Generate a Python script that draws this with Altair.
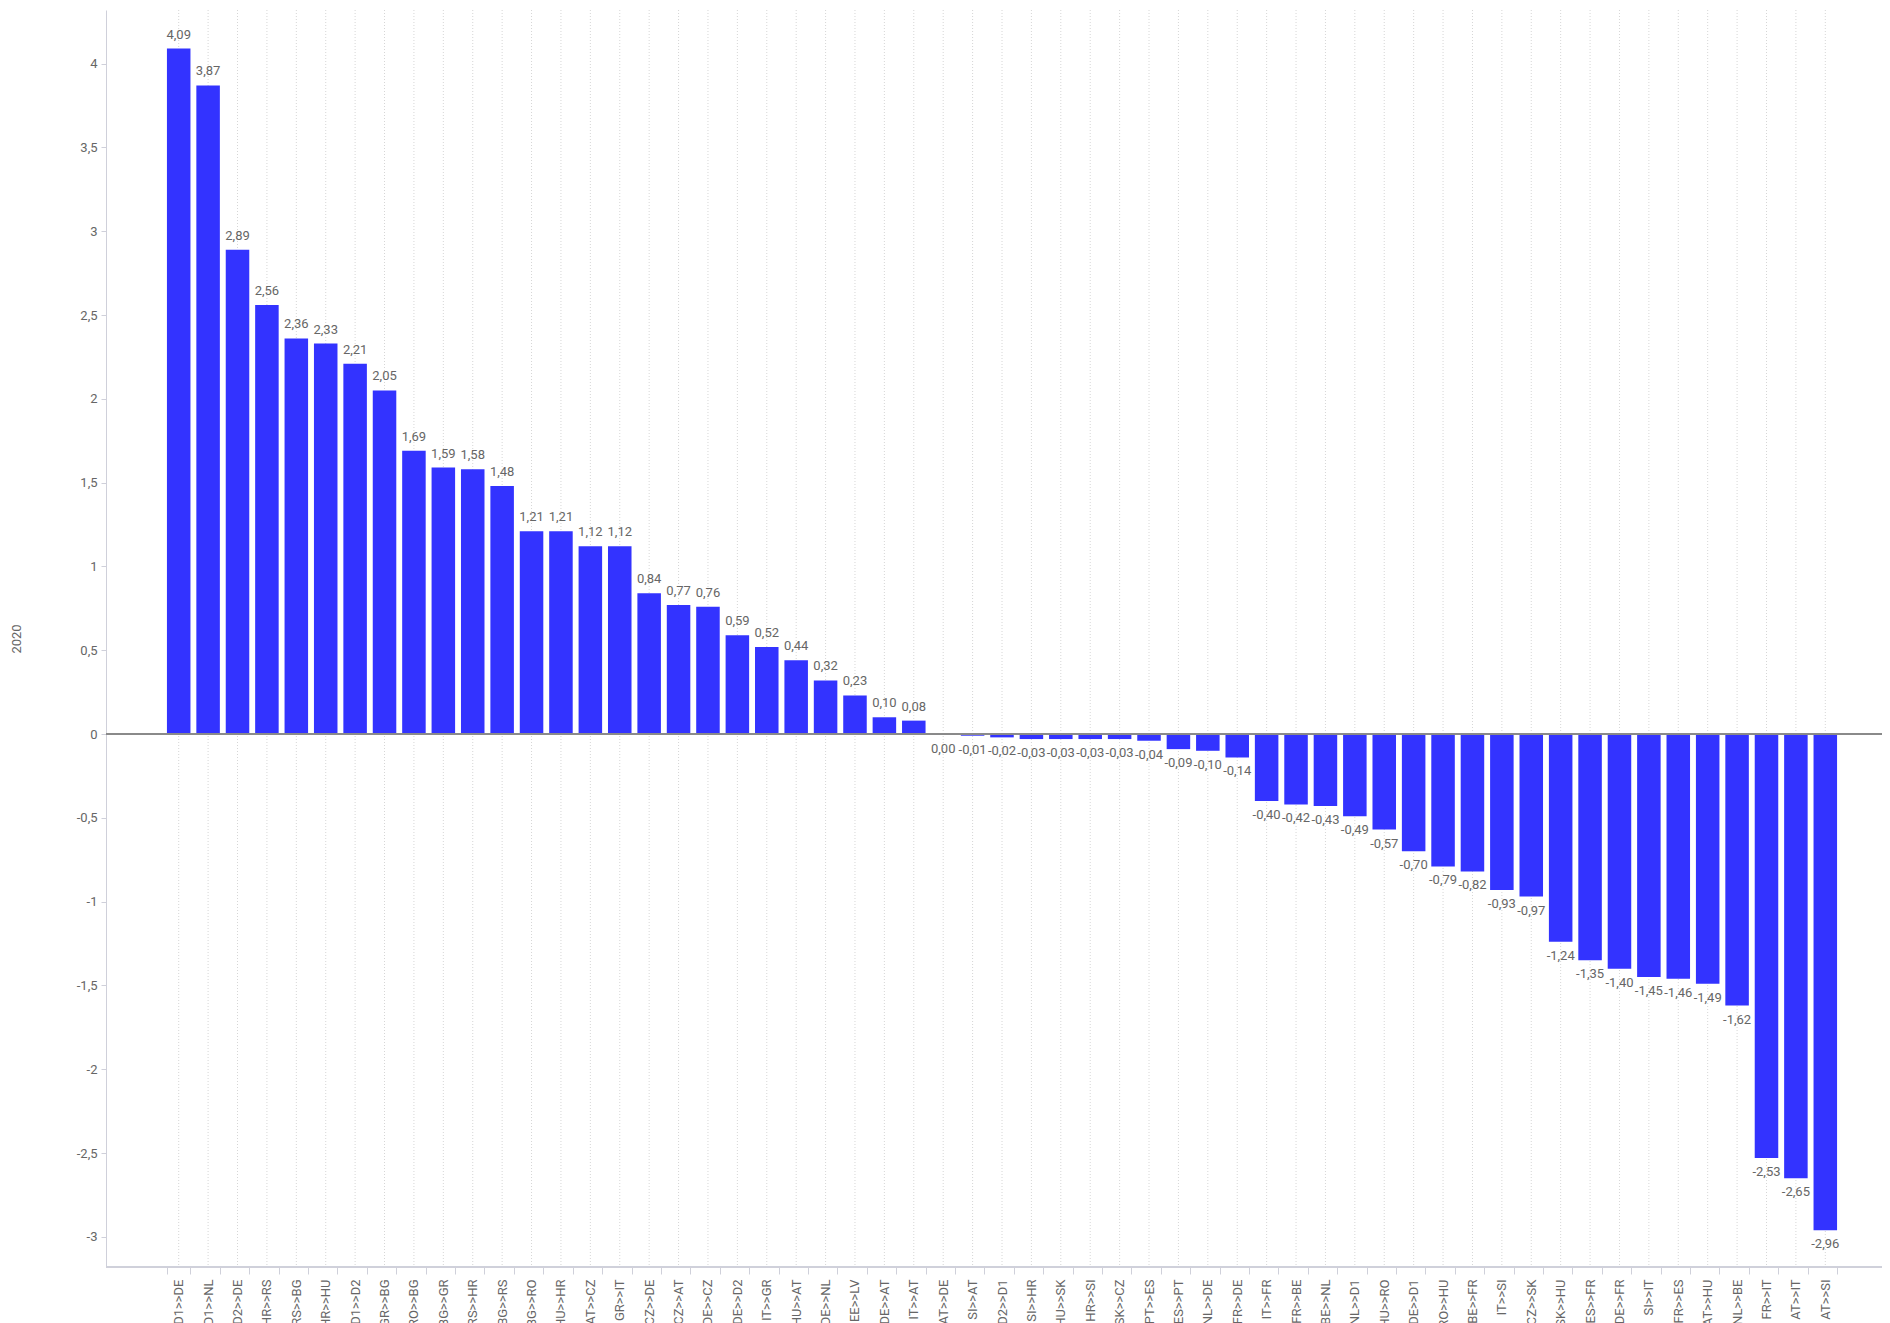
import altair as alt
import pandas as pd

categories = [
    "D1>>DE", "D1>>NL", "D2>>DE", "HR>>RS", "RS>>BG", "HR>>HU", "D1>>D2", "GR>>BG",
    "RO>>BG", "BG>>GR", "RS>>HR", "BG>>RS", "BG>>RO", "HU>>HR", "AT>>CZ", "GR>>IT",
    "CZ>>DE", "CZ>>AT", "DE>>CZ", "DE>>D2", "IT>>GR", "HU>>AT", "DE>>NL", "EE>>LV",
    "DE>>AT", "IT>>AT", "AT>>DE", "SI>>AT", "D2>>D1", "SI>>HR", "HU>>SK", "HR>>SI",
    "SK>>CZ", "PT>>ES", "ES>>PT", "NL>>DE", "FR>>DE", "IT>>FR", "FR>>BE", "BE>>NL",
    "NL>>D1", "HU>>RO", "DE>>D1", "RO>>HU", "BE>>FR", "IT>>SI", "CZ>>SK", "SK>>HU",
    "ES>>FR", "DE>>FR", "SI>>IT", "FR>>ES", "AT>>HU", "NL>>BE", "FR>>IT", "AT>>IT",
    "AT>>SI",
]
values = [
    4.09, 3.87, 2.89, 2.56, 2.36, 2.33, 2.21, 2.05,
    1.69, 1.59, 1.58, 1.48, 1.21, 1.21, 1.12, 1.12,
    0.84, 0.77, 0.76, 0.59, 0.52, 0.44, 0.32, 0.23,
    0.10, 0.08, -0.004, -0.01, -0.02, -0.03, -0.03, -0.03,
    -0.03, -0.04, -0.09, -0.10, -0.14, -0.40, -0.42, -0.43,
    -0.49, -0.57, -0.70, -0.79, -0.82, -0.93, -0.97, -1.24,
    -1.35, -1.40, -1.45, -1.46, -1.49, -1.62, -2.53, -2.65,
    -2.96,
]
y_ticks = [-3, -2.5, -2, -1.5, -1, -0.5, 0, 0.5, 1, 1.5, 2, 2.5, 3, 3.5, 4]
y_domain = [-3.18, 4.32]
y_title = "2020"

df = pd.DataFrame({"pair": categories, "value": values})

TEXT = "#666666"
AXIS = "#cfd0da"
BAR = "#3333ff"
W = 1776
H = 1257

xscale = alt.Scale(paddingInner=0.2, paddingOuter=0.1, range=[58, 1734])
x_enc = alt.X(
    "pair:N", sort=categories, title=None, scale=xscale,
    axis=alt.Axis(
        labelAngle=270, labelColor=TEXT, labelFontSize=13, labelPadding=5,
        tickBand="extent", tickSize=7, tickColor=AXIS, domain=False,
        grid=False,
    ),
)
y_enc = alt.Y(
    "value:Q", title=y_title,
    scale=alt.Scale(domain=y_domain, nice=False, zero=False),
    axis=alt.Axis(
        values=y_ticks, format="~g", labelColor=TEXT, labelFontSize=13,
        labelPadding=4, tickSize=5, tickColor=AXIS, domainColor=AXIS, grid=False,
        titleColor=TEXT, titleFontSize=13, titleFontWeight="normal", titlePadding=53,
    ),
)

base = alt.Chart(df)

grid = base.mark_rule(color="#d6d6d6", strokeDash=[1, 2], strokeWidth=1).encode(
    x=alt.X("pair:N", sort=categories, scale=xscale)
)

bars = base.mark_bar(color=BAR).encode(x=x_enc, y=y_enc)

zero = base.mark_rule(color="#8a8a8a", strokeWidth=1.3).encode(y=alt.datum(0))

x_domain_line = base.mark_rule(color=AXIS, strokeWidth=1).encode(
    y=alt.value(H), x=alt.value(0), x2=alt.value(W)
)

labeled = base.transform_calculate(label="format(datum.value, '.2f')")
pos_text = labeled.transform_filter("datum.value >= 0").mark_text(
    dy=-14, baseline="middle", align="center", fontSize=13, color=TEXT
).encode(x=alt.X("pair:N", sort=categories), y="value:Q", text="label:N")
neg_text = labeled.transform_filter("datum.value < 0").mark_text(
    dy=14, baseline="middle", align="center", fontSize=13, color=TEXT
).encode(x=alt.X("pair:N", sort=categories), y="value:Q", text="label:N")

chart = (
    alt.layer(grid, bars, zero, x_domain_line, pos_text, neg_text)
    .properties(
        width=W,
        height=H,
        autosize=alt.AutoSizeParams(type="none"),
        padding={"left": 98, "top": 2, "right": 0, "bottom": 60},
    )
    .configure(
        font="Roboto",
        locale={"number": {"decimal": ",", "thousands": ".", "grouping": [3],
                           "currency": ["", " €"], "minus": "-"}},
    )
    .configure_view(stroke=None)
)

chart.save("out.html", embed_options={"renderer": "svg", "actions": False})
